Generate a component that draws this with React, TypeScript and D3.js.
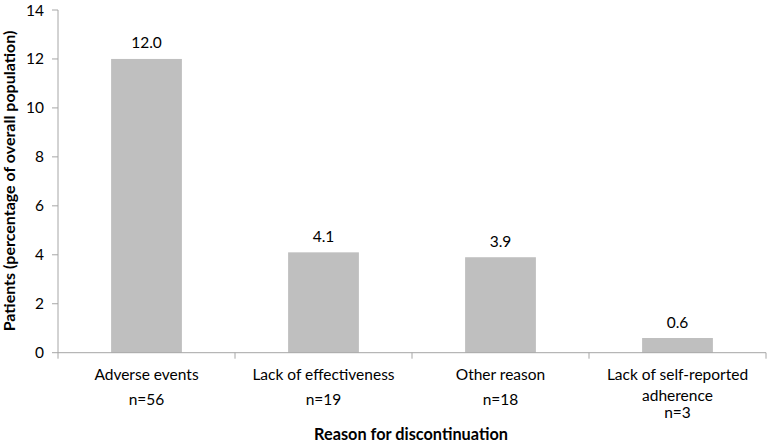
import React from "react";
import * as d3 from "d3";

const categories = ["Adverse events", "Lack of effectiveness", "Other reason", "Lack of self-reported adherence"];
const labelLines = [["Adverse events", "n=56"], ["Lack of effectiveness", "n=19"], ["Other reason", "n=18"], ["Lack of self-reported", "adherence", "n=3"]];
const values = [12.0, 4.1, 3.9, 0.6];
const yTicks = [0, 2, 4, 6, 8, 10, 12, 14];

const W = 767, H = 445;
const left = 58, right = 766, top = 10, bottom = 352.7;
const font = "Lato, 'Open Sans', sans-serif";

export default function App() {
  const x = d3.scaleBand<string>().domain(categories).range([left, right]).padding(0);
  const y = d3.scaleLinear().domain([0, 14]).range([bottom, top]);
  const bw = x.bandwidth() * 0.4;
  const axisColor = "#a6a6a6";
  return (
    <svg width={W} height={H} style={{ position: "absolute", left: 0, top: 0 }} fontFamily={font}>
      <rect width={W} height={H} fill="#fff" />
      {categories.map((c, i) => {
        const cx = x(c)! + x.bandwidth() / 2;
        return (
          <g key={c}>
            <rect x={cx - bw / 2} y={y(values[i])} width={bw} height={bottom - y(values[i])} fill="#bfbfbf" />
            <text x={cx} y={y(values[i]) - 10.5} textAnchor="middle" fontSize={15.5} fill="#000">{values[i].toFixed(1)}</text>
            {labelLines[i].map((l, j) => {
              const yy = i === 3 ? [380, 401, 418][j] : [380, 405][j];
              return <text key={j} x={cx} y={yy} textAnchor="middle" fontSize={15.5} fill="#000">{l}</text>;
            })}
          </g>
        );
      })}
      <line x1={left} x2={left} y1={top} y2={bottom} stroke={axisColor} />
      {yTicks.map(t => (
        <g key={t}>
          <line x1={left - 6} x2={left} y1={y(t)} y2={y(t)} stroke={axisColor} />
          <text x={44} y={y(t) + 5.5} textAnchor="end" fontSize={15.5} fill="#000">{t}</text>
        </g>
      ))}
      <line x1={left} x2={right} y1={bottom} y2={bottom} stroke={axisColor} />
      {[...categories.map(c => x(c)!), right].map((px, i) => (
        <line key={i} x1={px} x2={px} y1={bottom} y2={bottom + 6} stroke={axisColor} />
      ))}
      <text x={411} y={440} textAnchor="middle" fontSize={16.3} fontWeight="bold" fill="#000">Reason for discontinuation</text>
      <text transform={`translate(15, 181) rotate(-90)`} textAnchor="middle" fontSize={16} fontWeight="bold" fill="#000">Patients (percentage of overall population)</text>
    </svg>
  );
}
